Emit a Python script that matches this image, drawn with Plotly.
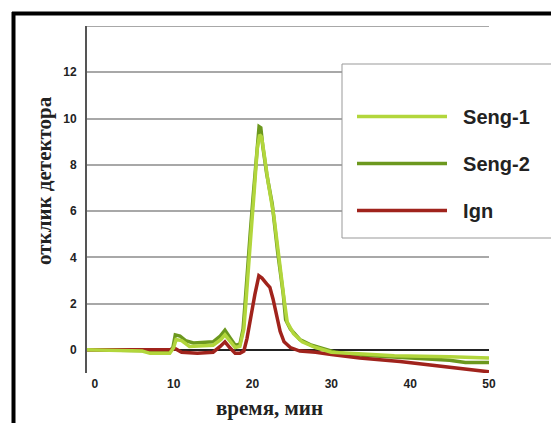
import plotly.graph_objects as go

# ---- data ----
seng2_x = [-1, 5, 9.5, 9.9, 10.2, 10.8, 11.5, 12.5, 15, 15.9, 16.5, 17.1, 17.8, 18.4, 18.8,
           19.05, 19.3, 19.7, 20.07, 20.57, 20.83, 21.05, 21.3, 21.8, 22.5, 23.2, 23.9,
           24.2, 24.8, 26, 27.5, 29, 30.5, 32.4, 35, 38.7, 42, 45, 47, 50]
seng2_y = [0, -0.05, -0.05, 0.1, 0.65, 0.6, 0.4, 0.3, 0.35, 0.6, 0.85, 0.55, 0.2, 0.25, 0.9,
           2.0, 3.3, 5.0, 6.6, 8.9, 9.65, 9.6, 8.8, 7.6, 6.3, 4.2, 2.4,
           1.3, 0.9, 0.45, 0.2, 0.05, -0.1, -0.2, -0.25, -0.35, -0.4, -0.45, -0.55, -0.55]

seng1_x = [-1, 6, 7, 9.5, 10, 10.3, 11, 12, 15, 16, 16.5, 17.1, 17.8, 18.4, 18.9,
           19.15, 19.4, 19.8, 20.2, 20.6, 20.9, 21.15, 21.5, 22.0, 22.7, 23.3, 24.0,
           24.4, 25.2, 26.3, 28, 30, 33, 38, 45, 50]
seng1_y = [0, -0.05, -0.15, -0.15, 0.1, 0.45, 0.4, 0.15, 0.2, 0.45, 0.65, 0.4, 0.1, 0.15, 0.9,
           2.0, 3.3, 5.0, 6.8, 8.7, 9.3, 9.2, 8.4, 7.2, 5.8, 4.0, 2.2,
           1.2, 0.7, 0.35, 0.1, -0.1, -0.15, -0.25, -0.3, -0.35]

ign_x = [-1, 9.5, 10.2, 11, 13, 15, 15.9, 16.5, 17.1, 17.8, 18.4, 18.9, 19.3, 19.7,
         20.3, 20.8, 21.2, 21.8, 22.2, 22.6, 23.0, 23.5, 24.0, 24.8, 26, 28, 30,
         33.6, 38.7, 43.8, 47, 50]
ign_y = [0, 0, 0.05, -0.1, -0.15, -0.1, 0.15, 0.35, 0.1, -0.15, -0.15, -0.05, 0.5, 1.3,
         2.4, 3.2, 3.1, 2.85, 2.7, 2.2, 1.5, 0.8, 0.35, 0.1, -0.05, -0.1, -0.2,
         -0.35, -0.5, -0.7, -0.85, -0.95]

series_names = ["Seng-1", "Seng-2", "Ign"]
series_colors = ["#b2d63c", "#6c981e", "#a0231c"]

x_ticks = [0, 10, 20, 30, 40, 50]
y_ticks = [0, 2, 4, 6, 8, 10, 12]
y_top = 14

W, H = 559, 423
OFF = 8  # page body margin shifts the figure
L, R, T, B = 87 - OFF, 489 - OFF, 26 - OFF, 373 - OFF


def px(xp):
    return (xp - OFF - L) / (R - L)


def py(yp):
    return (B - (yp - OFF)) / (B - T)


fig = go.Figure()
data = {"Seng-1": (seng1_x, seng1_y), "Seng-2": (seng2_x, seng2_y), "Ign": (ign_x, ign_y)}
for i, (name, col) in enumerate(zip(series_names, series_colors)):
    xs, ys = data[name]
    fig.add_trace(go.Scatter(x=xs, y=ys, mode="lines", name="\u00a0\u00a0" + name,
                             line=dict(color=col, width=3.5), legendgroup=name,
                             legendrank=i + 1))

# drawing order: Seng-2, Ign below, Seng-1 on top
fig.data = (fig.data[1], fig.data[2], fig.data[0])

tickfont = dict(family="Arial, Liberation Sans", size=12, color="#222", weight="bold")
serif = "Times New Roman, Liberation Serif"

fig.update_layout(
    width=W, height=H,
    margin=dict(l=L, r=W - R, t=T, b=H - B),
    paper_bgcolor="white", plot_bgcolor="white",
    showlegend=True,
    legend=dict(x=px(352), y=py(97), xanchor="left", yanchor="top",
                bgcolor="rgba(0,0,0,0)", borderwidth=0,
                font=dict(family="Arial, Liberation Sans", size=20, color="#222", weight="bold"),
                tracegroupgap=18, traceorder="grouped", itemwidth=90),
    xaxis=dict(range=[-1, 50], tickvals=x_ticks, showgrid=False, zeroline=False,
               showline=False, ticks="", tickfont=tickfont, ticklabelstandoff=2),
    yaxis=dict(range=[-1, y_top], tickvals=y_ticks, showgrid=True, gridcolor="#a8a8a8",
               gridwidth=2, zeroline=True, zerolinecolor="#222", zerolinewidth=2,
               showline=True, linecolor="#555", linewidth=2, ticks="",
               tickfont=tickfont, ticklabelstandoff=6),
    annotations=[
        dict(text="<b>время, мин</b>", x=px(269), y=py(408), xref="paper", yref="paper",
             xanchor="center", yanchor="middle", showarrow=False,
             font=dict(family=serif, size=21, color="#222")),
        dict(text="<b>отклик детектора</b>", x=px(44), y=py(181), xref="paper", yref="paper",
             xanchor="center", yanchor="middle", showarrow=False, textangle=-90,
             font=dict(family=serif, size=21, color="#222")),
    ],
    shapes=[
        dict(type="line", xref="paper", yref="y", x0=0, x1=1, y0=y_top, y1=y_top,
             line=dict(color="#a8a8a8", width=2), layer="below"),
        dict(type="rect", xref="paper", yref="paper", x0=px(342), x1=px(557),
             y0=py(238), y1=py(64), fillcolor="white", line=dict(color="#999", width=1),
             layer="above"),
        dict(type="line", xref="paper", yref="paper", x0=px(13.5), x1=px(13.5),
             y0=py(12), y1=py(440), line=dict(color="black", width=4)),
        dict(type="line", xref="paper", yref="paper", x0=px(12), x1=px(570),
             y0=py(13.5), y1=py(13.5), line=dict(color="black", width=4)),
    ],
)

fig.write_html("out.html")
